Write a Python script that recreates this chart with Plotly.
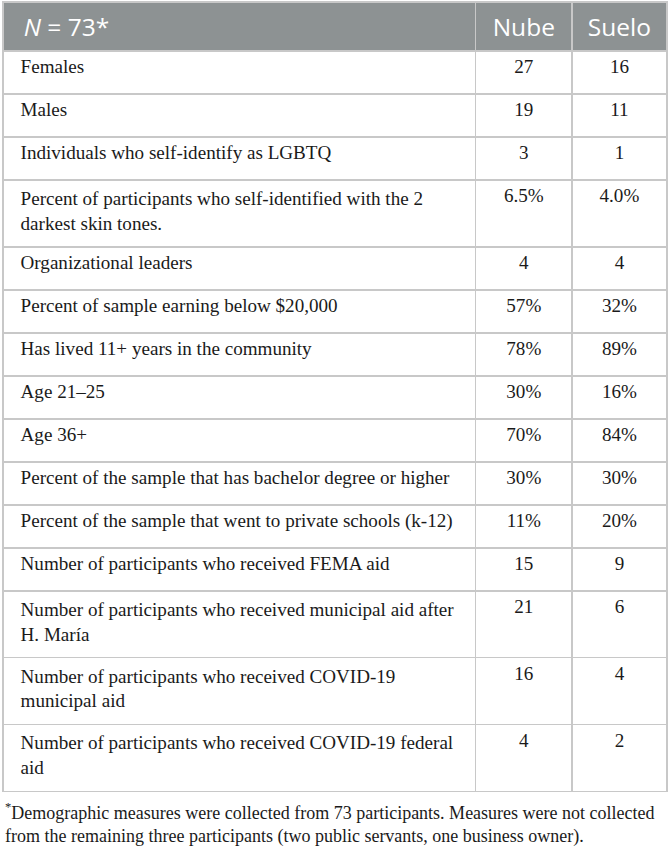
import plotly.graph_objects as go

header = ['<i>N</i> = 73*', 'Nube', 'Suelo']

measures = [
    'Females',
    'Males',
    'Individuals who self-identify as LGBTQ',
    'Percent of participants who self-identified with the 2<br>darkest skin tones.',
    'Organizational leaders',
    'Percent of sample earning below $20,000',
    'Has lived 11+ years in the community',
    'Age 21–25',
    'Age 36+',
    'Percent of the sample that has bachelor degree or higher',
    'Percent of the sample that went to private schools (k-12)',
    'Number of participants who received FEMA aid',
    'Number of participants who received municipal aid after<br>H. María',
    'Number of participants who received COVID-19<br>municipal aid',
    'Number of participants who received COVID-19 federal<br>aid',
]

nube = ['27', '19', '3', '6.5%', '4', '57%', '78%', '30%', '70%', '30%', '11%', '15', '21', '16', '4']
suelo = ['16', '11', '1', '4.0%', '4', '32%', '89%', '16%', '84%', '30%', '20%', '9', '6', '4', '2']

footnote = ('<sup>*</sup>Demographic measures were collected from 73 participants. Measures were not collected<br>'
            'from the remaining three participants (two public servants, one business owner).')

pad = '\u00a0\u00a0'
# a wide blank at the end of a wrapped label makes the row a little taller, like the reference
tail = '<span style="font-size:42px">\u00a0</span>'


def label(m):
    if '<br>' in m:
        return pad + m.replace('<br>', '<br>' + pad) + tail
    return pad + m


def head(h):
    # bigger base font pushes the baseline down so the header text sits centred;
    # the trailing <br> stops plotly from word-wrapping the span tag
    return '<span style="font-size:24.5px">' + h + '</span><br>'


fig = go.Figure(go.Table(
    domain={'x': [3 / 670, 667 / 670], 'y': [1 - 805 / 847, 1 - 2 / 847]},
    columnwidth=[472, 96, 95],
    header=dict(values=[head(pad + header[0]), head(header[1]), head(header[2])],
                fill_color='#8d9293',
                line=dict(color='#c8c8c8', width=1.5),
                align=['left', 'center', 'center'],
                font=dict(family='Open Sans', size=31, color='white'),
                height=45),
    cells=dict(values=[[label(m) for m in measures], nube, suelo],
               fill_color='white',
               line=dict(color='#c8c8c8', width=1.5),
               align=['left', 'center', 'center'],
               font=dict(family='Liberation Serif', size=19.1, color='#1a1a1a'),
               height=43),
))

fig.add_annotation(text=footnote, x=3 / 670, y=1 - 823 / 847, xref='paper', yref='paper',
                   xanchor='left', yanchor='middle', showarrow=False, align='left',
                   font=dict(family='Liberation Serif', size=18, color='#1a1a1a'))

fig.update_layout(width=670, height=847, margin=dict(l=0, r=0, t=0, b=0),
                  paper_bgcolor='white', plot_bgcolor='white')
fig.write_html('out.html', config={'displayModeBar': False},
               post_script="document.body.style.margin='0';")
